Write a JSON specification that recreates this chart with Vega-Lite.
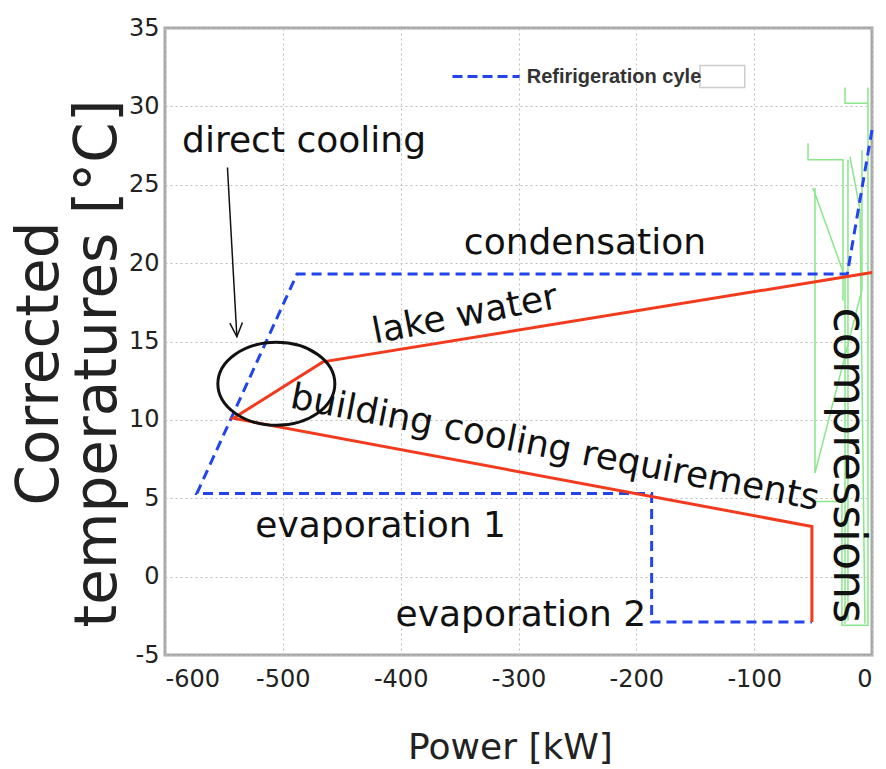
{
  "$schema": "https://vega.github.io/schema/vega-lite/v6.json",
  "width": 707,
  "height": 627,
  "autosize": {"type": "none"},
  "padding": {"left": 165, "top": 28, "right": 14, "bottom": 114},
  "background": "white",
  "config": {
    "view": {"stroke": "#a8a8a8", "strokeWidth": 3},
    "font": "DejaVu Sans"
  },
  "encoding": {
    "x": {
      "field": "x", "type": "quantitative",
      "scale": {"domain": [-600, 0], "nice": false, "zero": false},
      "axis": {
        "title": "Power [kW]",
        "values": [-600, -500, -400, -300, -200, -100, 0],
        "labelExpr": "datum.value < 0 ? '-' + abs(datum.value) : '' + datum.value",
        "grid": true, "gridColor": "#bdbdbd", "gridDash": [2, 3],
        "domain": false, "ticks": false,
        "labelFont": "DejaVu Sans", "labelFontSize": 24, "labelColor": "#222", "labelPadding": 12,
        "titleFont": "DejaVu Sans", "titleFontSize": 36, "titleFontWeight": "normal", "titleColor": "#222",
        "titleX": 345, "titleY": 103, "titleBaseline": "alphabetic"
      }
    },
    "y": {
      "field": "y", "type": "quantitative",
      "scale": {"domain": [-5, 35], "nice": false, "zero": false},
      "axis": {
        "title": ["Corrected", "temperatures [°C]"],
        "values": [-5, 0, 5, 10, 15, 20, 25, 30, 35],
        "labelExpr": "datum.value < 0 ? '-' + abs(datum.value) : '' + datum.value",
        "grid": true, "gridColor": "#bdbdbd", "gridDash": [2, 3],
        "domain": false, "ticks": false,
        "labelFont": "DejaVu Sans", "labelFontSize": 24, "labelColor": "#222", "labelPadding": 6,
        "titleFont": "DejaVu Sans", "titleFontSize": 58, "titleFontWeight": "normal", "titleColor": "#222",
        "titleLineHeight": 58, "titleAngle": 270,
        "titleX": -154, "titleY": 335, "titleBaseline": "top", "titleAlign": "center"
      }
    }
  },
  "layer": [
    {
      "data": {"values": [
        {"g": 1, "i": 1, "x": -22.9, "y": 31.2}, {"g": 1, "i": 2, "x": -22.9, "y": 30.2}, {"g": 1, "i": 3, "x": -3.4, "y": 30.2},
        {"g": 2, "i": 1, "x": -3.4, "y": 31.2}, {"g": 2, "i": 2, "x": -3.4, "y": -3.1}, {"g": 2, "i": 3, "x": -25.5, "y": -3.1}, {"g": 2, "i": 4, "x": -25.5, "y": 4.8}, {"g": 2, "i": 5, "x": -48.4, "y": 4.8},
        {"g": 3, "i": 1, "x": -54.3, "y": 27.65}, {"g": 3, "i": 2, "x": -54.3, "y": 26.6}, {"g": 3, "i": 3, "x": -24.6, "y": 26.6}, {"g": 3, "i": 4, "x": -24.6, "y": 17.6},
        {"g": 4, "i": 1, "x": -50.1, "y": 24.8}, {"g": 4, "i": 2, "x": -22.9, "y": 19.1}, {"g": 4, "i": 3, "x": -22.9, "y": -3.0},
        {"g": 5, "i": 1, "x": -48.4, "y": 24.8}, {"g": 5, "i": 2, "x": -48.4, "y": 6.6}, {"g": 5, "i": 3, "x": -8.5, "y": 18.3}, {"g": 5, "i": 4, "x": -8.5, "y": 27.2},
        {"g": 6, "i": 1, "x": -18.7, "y": 26.8}, {"g": 6, "i": 2, "x": -10.2, "y": 23.4}, {"g": 6, "i": 3, "x": -6.0, "y": -3.0},
        {"g": 7, "i": 1, "x": -20.4, "y": 26.6}, {"g": 7, "i": 2, "x": -20.4, "y": -2.8}
      ]},
      "mark": {"type": "line", "color": "#8ae68a", "strokeWidth": 1.5},
      "encoding": {"detail": {"field": "g", "type": "nominal"}, "order": {"field": "i", "type": "quantitative"}}
    },
    {
      "data": {"values": [
        {"i": 1, "x": 0, "y": 28.5}, {"i": 2, "x": -21, "y": 19.3}, {"i": 3, "x": -488, "y": 19.3},
        {"i": 4, "x": -573, "y": 5.3}, {"i": 5, "x": -187, "y": 5.3}, {"i": 6, "x": -187, "y": -2.9}, {"i": 7, "x": -51, "y": -2.9}
      ]},
      "mark": {"type": "line", "color": "#2244ee", "strokeWidth": 3, "strokeDash": [10, 6]},
      "encoding": {"order": {"field": "i", "type": "quantitative"}}
    },
    {
      "data": {"values": [
        {"i": 1, "x": -51, "y": -2.9}, {"i": 2, "x": -51, "y": 3.2}, {"i": 3, "x": -542, "y": 10.1},
        {"i": 4, "x": -466, "y": 13.7}, {"i": 5, "x": 0, "y": 19.4}
      ]},
      "mark": {"type": "line", "color": "#f23a1e", "strokeWidth": 3},
      "encoding": {"order": {"field": "i", "type": "quantitative"}}
    },
    {
      "data": {"values": [{"x": -505.5, "y": 12.3}]},
      "mark": {"type": "point", "shape": "M-1,0A1,0.709,0,1,1,1,0A1,0.709,0,1,1,-1,0Z", "size": 13689, "filled": false, "stroke": "#111", "strokeWidth": 3, "opacity": 1}
    },
    {
      "data": {"values": [{"x": -547, "y": 26.1, "x2": -539, "y2": 15.3}]},
      "mark": {"type": "rule", "color": "#111", "strokeWidth": 1.5},
      "encoding": {"x2": {"field": "x2"}, "y2": {"field": "y2"}}
    },
    {
      "data": {"values": [{"x": -539, "y": 15.3}]},
      "mark": {"type": "point", "shape": "M-0.45,-1L0,0L0.45,-1", "size": 784, "filled": false, "stroke": "#111", "strokeWidth": 1.5, "opacity": 1, "angle": 357}
    },
    {
      "data": {"values": [
        {"x": -482, "y": 27.8, "label": "direct cooling"},
        {"x": -243.6, "y": 21.3, "label": "condensation"},
        {"x": -417, "y": 3.2, "label": "evaporation 1"},
        {"x": -298, "y": -2.45, "label": "evaporation 2"}
      ]},
      "mark": {"type": "text", "font": "DejaVu Sans", "fontSize": 36, "color": "#111", "align": "center", "baseline": "middle"},
      "encoding": {"text": {"field": "label"}}
    },
    {
      "data": {"values": [{"x": -345.5, "y": 16.7, "label": "lake water"}]},
      "mark": {"type": "text", "font": "DejaVu Sans", "fontSize": 36, "color": "#111", "align": "center", "baseline": "middle", "angle": 349},
      "encoding": {"text": {"field": "label"}}
    },
    {
      "data": {"values": [{"x": -269, "y": 8.2, "label": "building cooling requirements"}]},
      "mark": {"type": "text", "font": "DejaVu Sans", "fontSize": 36, "color": "#111", "align": "center", "baseline": "middle", "angle": 11},
      "encoding": {"text": {"field": "label"}}
    },
    {
      "data": {"values": [{"x": -20.4, "y": 7.1, "label": "compressions"}]},
      "mark": {"type": "text", "font": "DejaVu Sans", "fontSize": 46, "color": "#111", "align": "center", "baseline": "middle", "angle": 90},
      "encoding": {"text": {"field": "label"}}
    },
    {
      "data": {"values": [{"x": -356, "y": 31.9, "x2": -299, "y2": 31.9}]},
      "mark": {"type": "rule", "color": "#2244ee", "strokeWidth": 3, "strokeDash": [10, 5]},
      "encoding": {"x2": {"field": "x2"}, "y2": {"field": "y2"}}
    },
    {
      "data": {"values": [{"x": -146, "y": 31.2, "x2": -108, "y2": 32.6}]},
      "mark": {"type": "rect", "fill": "white", "stroke": "#cccccc", "strokeWidth": 1.5},
      "encoding": {"x2": {"field": "x2"}, "y2": {"field": "y2"}}
    },
    {
      "data": {"values": [{"x": -293, "y": 31.9, "label": "Refirigeration cyle"}]},
      "mark": {"type": "text", "font": "Liberation Sans", "fontSize": 20, "fontWeight": "bold", "color": "#333", "align": "left", "baseline": "middle"},
      "encoding": {"text": {"field": "label"}}
    }
  ]
}
